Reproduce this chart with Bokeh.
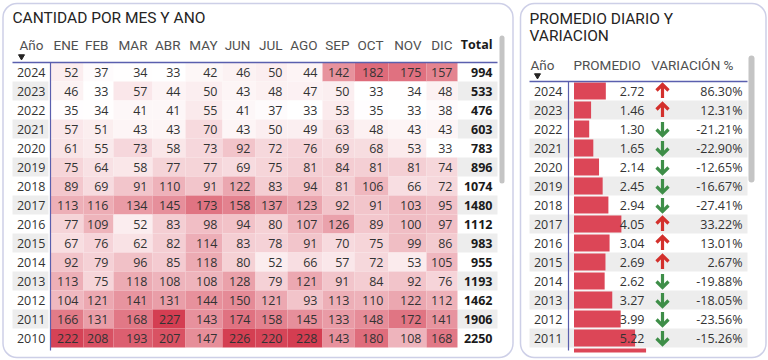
from bokeh.plotting import figure
from bokeh.models import Range1d, ColumnDataSource, LinearColorMapper, BoxAnnotation
from bokeh.transform import transform
from bokeh.embed import file_html
from bokeh.resources import INLINE
from bokeh.core.properties import value

# ---------------- DATA ----------------
years = [2024, 2023, 2022, 2021, 2020, 2019, 2018, 2017, 2016, 2015, 2014, 2013, 2012, 2011, 2010]
months = ["ENE", "FEB", "MAR", "ABR", "MAY", "JUN", "JUL", "AGO", "SEP", "OCT", "NOV", "DIC"]
ene = [52, 46, 35, 57, 61, 75, 89, 113, 77, 67, 92, 113, 104, 166, 222]
feb = [37, 33, 34, 51, 55, 64, 69, 116, 109, 76, 79, 75, 121, 131, 208]
mar = [34, 57, 41, 43, 73, 58, 91, 134, 52, 62, 96, 118, 141, 168, 193]
abr = [33, 44, 41, 43, 58, 77, 110, 145, 83, 82, 85, 108, 131, 227, 207]
may = [42, 50, 55, 70, 73, 77, 91, 173, 98, 114, 118, 108, 144, 143, 147]
jun = [46, 43, 41, 43, 92, 69, 122, 158, 94, 83, 80, 128, 150, 174, 226]
jul = [50, 48, 37, 50, 72, 75, 83, 137, 80, 78, 52, 79, 121, 158, 220]
ago = [44, 47, 33, 49, 76, 81, 94, 123, 107, 91, 66, 121, 93, 145, 228]
sep = [142, 50, 53, 63, 69, 84, 81, 92, 126, 70, 57, 91, 113, 133, 143]
oct_ = [182, 33, 35, 48, 68, 81, 106, 91, 89, 75, 72, 84, 110, 148, 180]
nov = [175, 34, 33, 43, 53, 81, 66, 103, 100, 99, 53, 92, 122, 172, 108]
dic = [157, 48, 38, 43, 33, 74, 72, 95, 97, 86, 105, 76, 112, 141, 168]
totals = [994, 533, 476, 603, 783, 896, 1074, 1480, 1112, 983, 955, 1193, 1462, 1906, 2250]

prom_years = [2024, 2023, 2022, 2021, 2020, 2019, 2018, 2017, 2016, 2015, 2014, 2013, 2012, 2011, 2010]
promedio = [2.72, 1.46, 1.30, 1.65, 2.14, 2.45, 2.94, 4.05, 3.04, 2.69, 2.62, 3.27, 3.99, 5.22, 6.16]
var_years = [2024, 2023, 2022, 2021, 2020, 2019, 2018, 2017, 2016, 2015, 2014, 2013, 2012, 2011]
variacion = [86.30, 12.31, -21.21, -22.90, -12.65, -16.67, -27.41, 33.22, 13.01, 2.67, -19.88, -18.05, -23.56, -15.26]

month_values = [ene, feb, mar, abr, may, jun, jul, ago, sep, oct_, nov, dic]

# ---------------- LAYOUT / STYLE ----------------
W, H = 768, 360
ROW_H = 19
L_TOP = 62          # first data row top, left table
R_TOP = 81          # first data row top, right table
EDGES = [50, 83, 113, 152, 185, 222, 255, 287, 322, 354, 388, 426, 457, 497]
PAD = 5
BLUE = "#5A5FAE"
GRAY_ROW = "#EDEDED"
TXT = "#333333"
HDR_TXT = "#505050"
NUM_FONT = value("Open Sans")
HDR_FONT = value("Roboto")
BAR_COLOR = "#DC4657"
BAR_X0 = 573.5      # pixel where bar value 0 sits
BAR_PX = 11.7       # pixels per unit of promedio

p = figure(width=W, height=H, output_backend="svg", toolbar_location=None,
           x_range=Range1d(0, W), y_range=Range1d(H, 0), min_border=0,
           background_fill_color="white", border_fill_color="white")
p.axis.visible = False
p.grid.visible = False
p.outline_line_color = None
p.extra_x_ranges = {"bar": Range1d(-BAR_X0 / BAR_PX, (W - BAR_X0) / BAR_PX)}

# ================= LEFT PANEL =================
p.text(x=[12], y=[17], text=["CANTIDAD POR MES Y ANO"], text_font=HDR_FONT,
       text_font_size="15.5px", text_color="#252423", text_baseline="middle")

odd = [i for i in range(len(years)) if i % 2 == 1]
p.quad(left=[12] * len(odd), right=[48] * len(odd),
       top=[L_TOP + i * ROW_H for i in odd], bottom=[L_TOP + (i + 1) * ROW_H for i in odd],
       fill_color=GRAY_ROW, line_color=None)
p.quad(left=[EDGES[-2]] * len(odd), right=[EDGES[-1]] * len(odd),
       top=[L_TOP + i * ROW_H for i in odd], bottom=[L_TOP + (i + 1) * ROW_H for i in odd],
       fill_color=GRAY_ROW, line_color=None)

palette = []
c0 = (255, 255, 255)
c1 = (0xD4, 0x3D, 0x51)
for k in range(256):
    t = k / 255
    palette.append("#%02x%02x%02x" % tuple(int(round(a + (b - a) * t)) for a, b in zip(c0, c1)))
all_vals = [v for col in month_values for v in col]
mapper = LinearColorMapper(palette=palette, low=min(all_vals), high=max(all_vals))

cl, cr, ct, cb, cv, cx, cy, ctext = [], [], [], [], [], [], [], []
for j, col in enumerate(month_values):
    for i, v in enumerate(col):
        cl.append(EDGES[j]); cr.append(EDGES[j + 1])
        ct.append(L_TOP + i * ROW_H); cb.append(L_TOP + (i + 1) * ROW_H)
        cv.append(v); cx.append(EDGES[j + 1] - PAD); cy.append(L_TOP + (i + 0.5) * ROW_H)
        ctext.append(str(v))
cells = ColumnDataSource(dict(left=cl, right=cr, top=ct, bottom=cb, val=cv, x=cx, y=cy, text=ctext))
p.quad(left="left", right="right", top="top", bottom="bottom", source=cells,
       fill_color=transform("val", mapper), line_color=None)
p.text(x="x", y="y", text="text", source=cells, text_font=NUM_FONT, text_font_size="12.5px",
       text_color=TXT, text_align="right", text_baseline="middle")

row_y = [L_TOP + (i + 0.5) * ROW_H for i in range(len(years))]
p.text(x=[45] * len(years), y=row_y, text=[str(y) for y in years], text_font=NUM_FONT,
       text_font_size="12.5px", text_color=TXT, text_align="right", text_baseline="middle")
p.text(x=[EDGES[-1] - PAD] * len(totals), y=row_y, text=[str(t) for t in totals], text_font=NUM_FONT,
       text_font_size="12.5px", text_font_style="bold", text_color="#1a1a1a",
       text_align="right", text_baseline="middle")

p.text(x=[19], y=[44], text=["Año"], text_font=HDR_FONT, text_font_size="13.5px",
       text_color=HDR_TXT, text_baseline="middle")
p.text(x=[EDGES[j + 1] - PAD for j in range(len(months))], y=[44] * len(months), text=months,
       text_font=HDR_FONT, text_font_size="13.5px", text_color=HDR_TXT,
       text_align="right", text_baseline="middle")
p.text(x=[EDGES[-1] - PAD], y=[44], text=["Total"], text_font=NUM_FONT, text_font_size="12.5px",
       text_font_style="bold", text_color="#1a1a1a", text_align="right", text_baseline="middle")
p.scatter(x=[21], y=[56], marker="inverted_triangle", size=6, color="#252423")

p.segment(x0=[12], y0=[L_TOP], x1=[EDGES[-1]], y1=[L_TOP], line_color=BLUE, line_width=1.5)
p.segment(x0=[EDGES[0]], y0=[L_TOP], x1=[EDGES[0]], y1=[350], line_color=BLUE, line_width=1.2)

# ================= RIGHT PANEL =================
p.text(x=[529, 529], y=[18, 35], text=["PROMEDIO DIARIO Y", "VARIACION"], text_font=HDR_FONT,
       text_font_size="15.5px", text_color="#252423", text_baseline="middle")

odd_r = [i for i in range(len(prom_years)) if i % 2 == 1]
p.quad(left=[529] * len(odd_r), right=[747] * len(odd_r),
       top=[R_TOP + i * ROW_H for i in odd_r], bottom=[R_TOP + (i + 1) * ROW_H for i in odd_r],
       fill_color=GRAY_ROW, line_color=None)

ry = [R_TOP + (i + 0.5) * ROW_H for i in range(len(prom_years))]
bars = ColumnDataSource(dict(y=ry, right=promedio, left=[0] * len(promedio)))
p.hbar(y="y", left="left", right="right", height=ROW_H - 2, source=bars, x_range_name="bar",
       fill_color=BAR_COLOR, line_color=None)

vy = [R_TOP + (i + 0.5) * ROW_H for i in range(len(var_years))]
p.text(x=[562] * len(var_years), y=vy, text=[str(y) for y in var_years], text_font=NUM_FONT,
       text_font_size="12.5px", text_color=TXT, text_align="right", text_baseline="middle")
p.text(x=[644] * len(var_years), y=vy, text=["%.2f" % v for v in promedio[:len(var_years)]],
       text_font=NUM_FONT, text_font_size="12.5px", text_color=TXT, text_align="right",
       text_baseline="middle")
p.text(x=[742] * len(var_years), y=vy, text=["%.2f%%" % v for v in variacion],
       text_font=NUM_FONT, text_font_size="12.5px", text_color=TXT, text_align="right",
       text_baseline="middle")

# arrows
AX = 662
for sign, color in ((1, "#D3302C"), (-1, "#3E8E48")):
    xs, ys = [], []
    for yc, v in zip(vy, variacion):
        if (v > 0) != (sign > 0):
            continue
        tip = yc - 6.5 * sign
        xs.append([AX - 6, AX, AX + 6]); ys.append([tip + 6 * sign, tip, tip + 6 * sign])
        xs.append([AX, AX]); ys.append([tip + 1 * sign, yc + 7 * sign])
    p.multi_line(xs=xs, ys=ys, line_color=color, line_width=3.2, line_join="miter")

p.text(x=[530], y=[64], text=["Año"], text_font=HDR_FONT, text_font_size="13.5px",
       text_color=HDR_TXT, text_baseline="middle")
p.text(x=[573], y=[64], text=["PROMEDIO"], text_font=HDR_FONT, text_font_size="13.5px",
       text_color=HDR_TXT, text_baseline="middle")
p.text(x=[733], y=[64], text=["VARIACIÓN %"], text_font=HDR_FONT, text_font_size="13.5px",
       text_color=HDR_TXT, text_align="right", text_baseline="middle")
p.scatter(x=[537], y=[75], marker="inverted_triangle", size=6, color="#252423")

p.segment(x0=[529], y0=[R_TOP], x1=[747], y1=[R_TOP], line_color=BLUE, line_width=1.5)
p.segment(x0=[568], y0=[R_TOP], x1=[568], y1=[350], line_color=BLUE, line_width=1.2)

# viewport mask at bottom of scrolling tables
p.add_layout(BoxAnnotation(left=0, right=W, top=352, bottom=H, fill_color="white",
                           fill_alpha=1, line_color=None, level="overlay"))

# scrollbars
p.add_layout(BoxAnnotation(left=499, right=504, top=35, bottom=183, fill_color="#C4C4C4",
                           fill_alpha=1, line_color=None, border_radius=3, level="overlay"))
p.add_layout(BoxAnnotation(left=748, right=754, top=55, bottom=182, fill_color="#C4C4C4",
                           fill_alpha=1, line_color=None, border_radius=3, level="overlay"))

# panel borders
p.add_layout(BoxAnnotation(left=2.5, right=512.5, top=3, bottom=357, fill_alpha=0,
                           line_color=BLUE, line_width=1.5, border_radius=14, level="overlay"))
p.add_layout(BoxAnnotation(left=520, right=765.5, top=3, bottom=357, fill_alpha=0,
                           line_color=BLUE, line_width=1.5, border_radius=14, level="overlay"))

open("out.html", "w").write(file_html(p, INLINE))
